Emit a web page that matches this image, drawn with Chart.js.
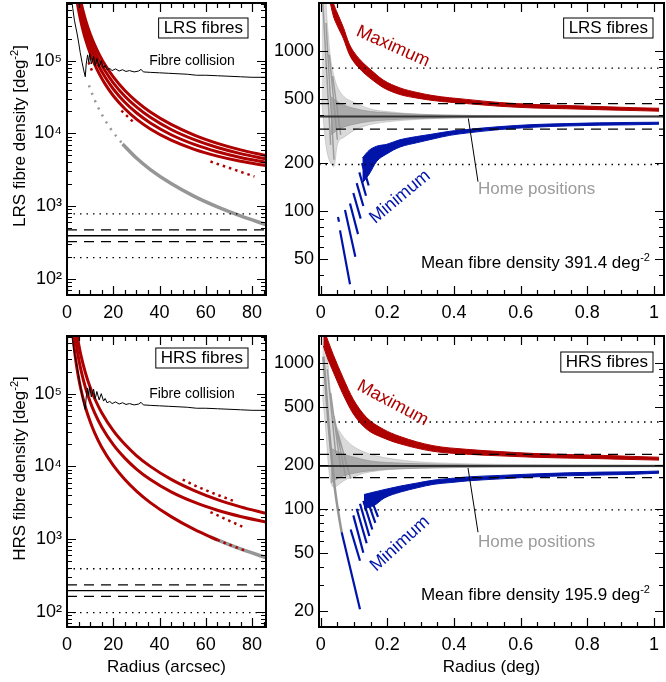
<!DOCTYPE html>
<html>
<head>
<meta charset="utf-8">
<script src="https://cdn.jsdelivr.net/npm/chart.js@4.4.0/dist/chart.umd.min.js"></script>
<style>
  body { margin: 0; background: #fff; }
  #wrap { position: relative; width: 666px; height: 682px; }
  canvas { position: absolute; }
</style>
</head>
<body>
<div id="wrap">
  <canvas id="lrsArc" width="270" height="330" style="left:0;top:0"></canvas>
  <canvas id="lrsDeg" width="396" height="330" style="left:270px;top:0"></canvas>
  <canvas id="hrsArc" width="270" height="352" style="left:0;top:330px"></canvas>
  <canvas id="hrsDeg" width="396" height="352" style="left:270px;top:330px"></canvas>
</div>
<script>
const FONT = "'Liberation Sans', Arial, Helvetica, sans-serif";
Chart.defaults.font.family = FONT;
Chart.defaults.font.size = 17;
Chart.defaults.color = '#000';

const RED = 'rgb(175,0,0)';
const BLUE = 'rgb(0,20,170)';
const GREY = 'rgb(150,150,150)';

// ---- radius in arcsec: density around a fibre, [radius, density] ----
const collisionLimit = [[2.0,7e5],[2.5,5.2e5],[3.2,3.6e5],[4.3,2.4e5],[5,1.8e5],[5.7,1.3e5],[6.5,9.5e4],[7.3,7.2e4],[7.9,6.0e4],[8.3,9e4],[8.9,1.2e5],[9.4,9.5e4],[9.8,1.25e5],[10.5,9e4],[11.5,1.15e5],[12.2,8.5e4],[12.9,1.07e5],[13.9,8.2e4],[14.8,1.0e5],[15.8,7.9e4],[16.5,8.6e4],[17.3,7.5e4],[18.5,7.8e4],[19.5,7.3e4],[21,7.7e4],[22.5,7.2e4],[24,7.5e4],[25.5,7.1e4],[27,7.3e4],[29,7.0e4],[31,7.2e4],[32,7.6e4],[33,7.0e4],[36,6.9e4],[40,6.8e4],[44,6.7e4],[48,6.6e4],[52,6.5e4],[56,6.3e4],[60,6.3e4],[65,6.2e4],[70,6.1e4],[75,6.0e4],[80,5.9e4],[86,5.9e4]];

const lrsArcRedA = [[6,6.46e5],[7,4.75e5],[8,3.64e5],[10,2.34e5],[12,1.63e5],[14,1.2e5],[16.5,8.69e4],[20,5.98e4],[25,3.89e4],[30,2.76e4],[36,1.97e4],[45,1.33e4],[55,9480],[65,7300],[75,5940],[86,4950]];
const lrsArcRedB = [[5.5,6.33e5],[6,5.32e5],[7,3.91e5],[8,3.0e5],[10,1.93e5],[12,1.34e5],[14,9.92e4],[16.5,7.2e4],[20,4.96e4],[25,3.24e4],[30,2.31e4],[36,1.66e4],[45,1.13e4],[55,8190],[65,6390],[75,5270],[86,4460]];
const lrsArcRedC = [[4.8,6.76e5],[5,6.24e5],[6,4.34e5],[7,3.19e5],[8,2.45e5],[10,1.57e5],[12,1.1e5],[14,8.12e4],[16.5,5.9e4],[20,4.08e4],[25,2.68e4],[30,1.92e4],[36,1.39e4],[45,9580],[55,7050],[65,5590],[75,4670],[86,4010]];
const lrsArcRedD = [[4.3,6.73e5],[5,4.98e5],[6,3.46e5],[7,2.55e5],[8,1.96e5],[10,1.26e5],[12,8.8e4],[14,6.52e4],[16.5,4.75e4],[20,3.29e4],[25,2.18e4],[30,1.57e4],[36,1.15e4],[45,8060],[55,6030],[65,4870],[75,4140],[86,3610]];
const lrsArcRedSparse = [[[9.3,9.5e4],[11,7e4]],[[23.5,2.05e4],[28.5,1.45e4]],[[62,4100],[72,3200],[81,2550]]];
const lrsArcHomeSparse = [[9.5,4.57e4],[12,2.86e4],[15,1.83e4],[19,1.14e4],[24,7160]];
const lrsArcHome = [[24,7160],[30,4580],[36,3180],[45,2040],[55,1360],[65,976],[75,733],[86,558]];

const hrsArcRedA = [[4.3,6.58e5],[5,4.87e5],[6,3.38e5],[8,1.91e5],[10,1.22e5],[12,8.51e4],[15,5.47e4],[20,3.1e4],[25,2.01e4],[30,1.41e4],[36,1.0e4],[45,6620],[55,4640],[65,3490],[75,2780],[86,2260]];
const hrsArcRedB = [[3.4,6.64e5],[4,4.8e5],[5,3.07e5],[6,2.14e5],[8,1.2e5],[10,7.74e4],[12,5.39e4],[15,3.48e4],[20,1.99e4],[25,1.3e4],[30,9200],[36,6600],[45,4470],[55,3220],[65,2500],[75,2050],[86,1720]];
const hrsArcRedC = [[2.5,6.6e5],[3,4.58e5],[4,2.58e5],[5,1.65e5],[6,1.15e5],[8,6.45e4],[10,4.13e4],[12,2.86e4],[15,1.83e4],[20,1.03e4],[25,6600],[30,4580],[36,3180],[45,2040],[55,1360],[65,976]];
const hrsArcRedSparse = [[[50,6600],[55,5500],[60,4700],[66,3950],[72,3350]],[[62,2350],[70,1800],[77,1420]],[[65,976],[70,842],[77,696]]];
const hrsArcHome = [[62,1073],[65,976],[75,733],[86,558]];

// ---- radius in deg: [radius, low, high] envelopes ----
const lrsMean = 391.4;
const lrsDashed = [470, 326];
const lrsDotted = [783, 196];
const lrsMaximum = [[0.025,2180,2640],[0.038,1660,2010],[0.05,1440,1730],[0.068,1200,1410],[0.085,965,1120],[0.098,865,1000],[0.115,785,900],[0.13,730,835],[0.16,650,735],[0.188,592,660],[0.238,536,590],[0.29,509,552],[0.337,492,528],[0.387,480,512],[0.437,471,500],[0.537,453,478],[0.637,442,465],[0.737,437,458],[0.837,431,451],[0.937,426,444],[1.015,422,440]];
const lrsMinimum = [[0.125,150,215],[0.145,170,240],[0.168,205,255],[0.198,228,262],[0.238,252,280],[0.288,268,293],[0.337,283,304],[0.387,298,316],[0.437,308,324],[0.537,324,338],[0.637,335,348],[0.737,341,353],[0.837,345,357],[0.937,347,359],[1.015,350,360]];
const lrsMinStripes = [[[0.052,92],[0.055,86]],[[0.058,76],[0.088,35]],[[0.073,102],[0.104,52]],[[0.088,112],[0.112,72]],[[0.098,130],[0.120,90]],[[0.108,150],[0.128,108]],[[0.116,175],[0.136,125]],[[0.124,200],[0.144,145]]];
const lrsHome = [[0.003,500,2500],[0.012,300,2500],[0.02,230,1500],[0.03,200,900],[0.04,190,700],[0.05,260,600],[0.07,290,520],[0.1,320,480],[0.13,340,450],[0.16,352,430],[0.2,362,420],[0.25,370,410],[0.3,376,404],[0.4,383,398],[0.55,387,395],[1.03,390,393]];
const lrsHomeCore = [[0.03,300,520],[0.06,330,470],[0.1,350,440],[0.15,365,420],[0.2,372,412],[0.3,380,403],[0.45,385,397],[0.6,388,395],[1.03,390,393]];
const lrsHomeStreaks = [[[0.006,2100],[0.03,260]],[[0.016,1500],[0.04,210]],[[0.026,950],[0.05,280]],[[0.036,700],[0.06,300]]];
const lrsPointer = [[0.443,380],[0.472,153]];

const hrsMean = 195.9;
const hrsDashed = [235, 163];
const hrsDotted = [392, 98];
const hrsMaximum = [[0.008,1300,1700],[0.02,1080,1450],[0.038,860,1130],[0.068,600,780],[0.098,445,560],[0.138,350,420],[0.188,305,350],[0.238,278,312],[0.337,247,270],[0.437,236,255],[0.537,230,246],[0.637,225,239],[0.737,222,235],[0.837,220,232],[0.937,217,228],[1.015,215,225]];
const hrsMinimum = [[0.13,100,125],[0.16,105,130],[0.19,118,135],[0.24,130,143],[0.29,139,150],[0.34,147,157],[0.39,151,161],[0.44,155,165],[0.54,160,169],[0.64,165,173],[0.74,168,176],[0.84,170,178],[0.94,172,179],[1.015,175,181]];
const hrsMinStripes = [[[0.063,69],[0.118,20.5]],[[0.09,72],[0.118,44]],[[0.098,90],[0.128,50]],[[0.108,100],[0.138,58]],[[0.118,108],[0.146,65]],[[0.128,113],[0.155,72]],[[0.138,118],[0.164,80]],[[0.148,122],[0.172,88]]];
const hrsHome = [[0.005,600,1600],[0.015,350,1600],[0.025,180,800],[0.04,140,420],[0.06,150,330],[0.08,160,290],[0.1,165,265],[0.13,175,245],[0.16,180,232],[0.2,185,222],[0.25,188,214],[0.3,190,209],[0.4,192,204],[0.55,193,201],[1.03,194,199]];
const hrsHomeCore = [[0.03,150,260],[0.06,165,240],[0.1,175,225],[0.15,182,212],[0.2,186,207],[0.3,189,203],[0.45,192,200],[0.6,193,199],[1.03,194,198]];
const hrsHomeStreaks = [[[0.02,900],[0.045,240]],[[0.03,620],[0.06,190]],[[0.04,430],[0.075,165]],[[0.05,340],[0.09,160]]];
const hrsHomeTail = [[0.008,1100],[0.015,700],[0.022,420],[0.03,260],[0.043,135],[0.055,88],[0.063,69]];
const hrsPointer = [[0.442,190],[0.472,69]];

// ---- axis ticks ----
const arcTicks = [0, 20, 40, 60, 80];
const degTicks = [0, 0.2, 0.4, 0.6, 0.8, 1];
const arcDensityTicks = [100, 1000, 10000, 100000];
const lrsDegTicks = [50, 100, 200, 500, 1000];
const hrsDegTicks = [20, 50, 100, 200, 500, 1000];
const powerLabels = { 100: '10²', 1000: '10³', 10000: '10⁴', 100000: '10⁵' };

// helpers
const pts = arr => arr.map(([x, y]) => ({ x, y }));
const gapped = segs => segs.flatMap((s, i) => i ? [{ x: (segs[i - 1].at(-1)[0] + s[0][0]) / 2, y: null }, ...pts(s)] : pts(s));
const logMinors = (lo, hi) => {
  const out = [];
  for (let e = 0; e <= 6; e++) for (let m = 2; m <= 9; m++) {
    const v = m * Math.pow(10, e);
    if (v > lo && v < hi) out.push(v);
  }
  return out;
};
const steps = (lo, hi, d) => { const out = []; for (let v = lo; v <= hi + 1e-9; v += d) out.push(+v.toFixed(4)); return out; };

function curve(data, color, width, extra) {
  return Object.assign({ data: pts(data), borderColor: color, borderWidth: width, pointRadius: 0,
    fill: false, cubicInterpolationMode: 'monotone', order: 2, clip: 0 }, extra);
}
function segments(segs, color, width, order) {
  return Object.assign(curve([], color, width, { cubicInterpolationMode: 'default', tension: 0, spanGaps: false, order }), { data: gapped(segs) });
}
function band(rows, color, fillColor, order) {
  return [
    { data: rows.map(r => ({ x: r[0], y: r[1] })), borderColor: color, borderWidth: 1, pointRadius: 0,
      fill: false, cubicInterpolationMode: 'monotone', order, clip: 0 },
    { data: rows.map(r => ({ x: r[0], y: r[2] })), borderColor: color, borderWidth: 1, pointRadius: 0,
      fill: '-1', backgroundColor: fillColor, cubicInterpolationMode: 'monotone', order, clip: 0 }
  ];
}
function hline(v, x0, x1, dash, width, color, order) {
  return { data: [{ x: x0, y: v }, { x: x1, y: v }], borderColor: color || '#000', borderWidth: width,
    borderDash: dash, pointRadius: 0, fill: false, order: order ?? 1, clip: 0 };
}

function richText(ctx, parts, x, y, size, align) {
  const widths = parts.map(([t, s]) => { ctx.font = `${s ? size * 0.65 : size}px ${FONT}`; return ctx.measureText(t).width; });
  const total = widths.reduce((a, b) => a + b, 0);
  let cx = align === 'right' ? x - total : align === 'center' ? x - total / 2 : x;
  ctx.textAlign = 'left';
  ctx.textBaseline = 'alphabetic';
  parts.forEach(([t, s], i) => {
    ctx.font = `${s ? size * 0.65 : size}px ${FONT}`;
    ctx.fillText(t, cx, s ? y - size * 0.42 : y);
    cx += widths[i];
  });
}

// frame, inward ticks on four sides, and the labels inside each panel
const panelDecor = {
  id: 'panelDecor',
  afterDatasetsDraw(chart, args, o) {
    const { ctx, chartArea: a, scales: { x, y } } = chart;
    ctx.save();
    ctx.strokeStyle = '#000';
    ctx.lineWidth = 1.2;
    ctx.beginPath();
    const tickX = (v, len) => {
      const p = Math.round(x.getPixelForValue(v)) + 0.5;
      ctx.moveTo(p, a.bottom); ctx.lineTo(p, a.bottom - len);
      ctx.moveTo(p, a.top); ctx.lineTo(p, a.top + len);
    };
    const tickY = (v, len) => {
      const p = Math.round(y.getPixelForValue(v)) + 0.5;
      ctx.moveTo(a.left, p); ctx.lineTo(a.left + len, p);
      ctx.moveTo(a.right, p); ctx.lineTo(a.right - len, p);
    };
    o.xMajor.forEach(v => tickX(v, 9));
    o.xMinor.forEach(v => tickX(v, 5));
    o.yMajor.forEach(v => tickY(v, 9));
    o.yMinor.forEach(v => tickY(v, 5));
    ctx.stroke();
    ctx.lineWidth = 2;
    ctx.strokeRect(a.left, a.top, a.right - a.left, a.bottom - a.top);

    // boxed fibre type
    ctx.font = `17px ${FONT}`;
    const w = ctx.measureText(o.box).width + 10;
    const bx = a.right - o.boxRight - w, by = a.top + o.boxTop;
    ctx.fillStyle = '#fff';
    ctx.fillRect(bx, by, w, 20);
    ctx.lineWidth = 1;
    ctx.strokeRect(bx, by, w, 20);
    ctx.fillStyle = '#000';
    ctx.textAlign = 'center';
    ctx.textBaseline = 'middle';
    ctx.fillText(o.box, bx + w / 2, by + 10.5);

    (o.notes || []).forEach(n => {
      ctx.save();
      ctx.translate(x.getPixelForValue(n.x), y.getPixelForValue(n.y));
      ctx.rotate((n.rot || 0) * Math.PI / 180);
      ctx.fillStyle = n.color || '#000';
      ctx.font = `${n.size}px ${FONT}`;
      ctx.textAlign = n.align || 'center';
      ctx.textBaseline = 'middle';
      ctx.fillText(n.text, 0, 0);
      ctx.restore();
    });

    if (o.mean) {
      ctx.fillStyle = '#000';
      richText(ctx, [['Mean fibre density ' + o.mean + ' deg', 0], ['-2', 1]], a.right - 14, a.bottom - 27, 17, 'right');
    }
    if (o.yTitle) {
      ctx.save();
      ctx.translate(19, (a.top + a.bottom) / 2 - 13);
      ctx.rotate(-Math.PI / 2);
      ctx.fillStyle = '#000';
      richText(ctx, [[o.yTitle + ' [deg', 0], ['-2', 1], [']', 0]], 0, 6, 17, 'center');
      ctx.restore();
    }
    ctx.restore();
  }
};

const noEdgePadding = s => { s.paddingTop = 0; s.paddingBottom = 0; s.paddingLeft = 0; s.paddingRight = 0; };

function makePanel(id, p) {
  return new Chart(document.getElementById(id), {
    type: 'line',
    data: { datasets: p.datasets },
    plugins: [panelDecor],
    options: {
      responsive: false,
      animation: false,
      devicePixelRatio: 1,
      layout: { padding: { top: p.padTop, right: p.padRight, left: 0, bottom: 0 } },
      plugins: {
        legend: { display: false },
        tooltip: { enabled: false },
        panelDecor: Object.assign({
          xMajor: p.xTicks, xMinor: p.xMinor,
          yMajor: p.yTicks, yMinor: logMinors(p.yMin, p.yMax).filter(v => !p.yTicks.includes(v))
        }, p.decor)
      },
      scales: {
        x: {
          type: 'linear', min: p.xMin, max: p.xMax,
          afterBuildTicks: s => { s.ticks = p.xTicks.map(v => ({ value: v })); },
          afterFit: s => { s.height = p.xAxisHeight; noEdgePadding(s); },
          ticks: { font: { size: 18 }, padding: 7, autoSkip: false, maxRotation: 0, minRotation: 0, callback: v => String(v) },
          grid: { display: false, drawTicks: false },
          border: { display: false },
          title: p.xTitle ? { display: true, text: p.xTitle, font: { size: 17 }, padding: { top: 0, bottom: 4 } } : { display: false }
        },
        y: {
          type: 'logarithmic', min: p.yMin, max: p.yMax,
          afterBuildTicks: s => { s.ticks = p.yTicks.map(v => ({ value: v })); },
          afterFit: s => { s.width = p.yAxisWidth; noEdgePadding(s); },
          ticks: { font: { size: 18 }, padding: 5, autoSkip: false, callback: p.yLabel },
          grid: { display: false, drawTicks: false },
          border: { display: false }
        }
      }
    }
  });
}

function arcDatasets(reds, sparse, homeSparse, home) {
  const ds = [curve(collisionLimit, '#000', 1, { cubicInterpolationMode: 'default', tension: 0, order: 0 })];
  reds.forEach(r => ds.push(curve(r, RED, 3)));
  ds.push(Object.assign(curve([], RED, 2.5, { borderDash: [2.5, 4], spanGaps: false }), { data: gapped(sparse) }));
  if (homeSparse) ds.push(curve(homeSparse, GREY, 2.5, { borderDash: [2, 6], order: 3 }));
  ds.push(curve(home, GREY, 3.5, { order: 3 }));
  return ds;
}
function refLines(mean, dashed, dotted, x0, x1, meanColor, meanWidth) {
  return [
    hline(mean, x0, x1, [], meanWidth, meanColor, 0),
    ...dashed.map(v => hline(v, x0, x1, [10, 7], 1.2)),
    ...dotted.map(v => hline(v, x0, x1, [1.5, 5], 1.3))
  ];
}
function degDatasets(home, core, streaks, maxRows, minRows, stripes, pointer, extra) {
  return [
    ...band(home, 'rgba(150,150,150,0.35)', 'rgba(150,150,150,0.35)', 5),
    ...band(core, 'rgba(150,150,150,0.7)', 'rgba(150,150,150,0.7)', 4),
    segments(streaks, 'rgba(150,150,150,0.9)', 1.5, 4),
    ...band(maxRows, RED, RED, 2),
    ...band(minRows, BLUE, BLUE, 2),
    segments(stripes, BLUE, 2.2, 2),
    curve(pointer, '#000', 1, { order: 1, cubicInterpolationMode: 'default', tension: 0 }),
    ...extra
  ];
}

const arcMinor = steps(0, 85, 5);
const degMinor = steps(0, 1.0, 0.05);

makePanel('lrsArc', {
  xMin: 0, xMax: 86, yMin: 60, yMax: 6.2e5, xTicks: arcTicks, xMinor: arcMinor, yTicks: arcDensityTicks,
  yLabel: v => powerLabels[v] || '', yAxisWidth: 67, xAxisHeight: 35, padTop: 3, padRight: 4,
  datasets: [
    ...arcDatasets([lrsArcRedA, lrsArcRedB, lrsArcRedC, lrsArcRedD], lrsArcRedSparse, lrsArcHomeSparse, lrsArcHome),
    ...refLines(lrsMean, lrsDashed, lrsDotted, 0, 86, '#000', 1.3)
  ],
  decor: { box: 'LRS fibres', boxRight: 18, boxTop: 15, yTitle: 'LRS fibre density',
    notes: [{ text: 'Fibre collision', x: 54, y: 9.8e4, size: 14 }] }
});

makePanel('hrsArc', {
  xMin: 0, xMax: 86, yMin: 62, yMax: 6.2e5, xTicks: arcTicks, xMinor: arcMinor, yTicks: arcDensityTicks,
  yLabel: v => powerLabels[v] || '', yAxisWidth: 67, xAxisHeight: 55, padTop: 6, padRight: 4, xTitle: 'Radius (arcsec)',
  datasets: [
    ...arcDatasets([hrsArcRedA, hrsArcRedB, hrsArcRedC], hrsArcRedSparse, null, hrsArcHome),
    ...refLines(hrsMean, hrsDashed, hrsDotted, 0, 86, '#000', 1.3)
  ],
  decor: { box: 'HRS fibres', boxRight: 18, boxTop: 12, yTitle: 'HRS fibre density',
    notes: [{ text: 'Fibre collision', x: 54, y: 1e5, size: 14 }] }
});

makePanel('lrsDeg', {
  xMin: -0.005, xMax: 1.03, yMin: 30, yMax: 2000, xTicks: degTicks, xMinor: degMinor, yTicks: lrsDegTicks,
  yLabel: v => String(v), yAxisWidth: 49, xAxisHeight: 35, padTop: 3, padRight: 2,
  datasets: degDatasets(lrsHome, lrsHomeCore, lrsHomeStreaks, lrsMaximum, lrsMinimum, lrsMinStripes, lrsPointer,
    refLines(lrsMean, lrsDashed, lrsDotted, -0.005, 1.03, '#333', 2)),
  decor: { box: 'LRS fibres', boxRight: 11, boxTop: 15, mean: lrsMean,
    notes: [
      { text: 'Maximum', x: 0.217, y: 1070, size: 18, rot: 24, color: RED },
      { text: 'Minimum', x: 0.238, y: 123, size: 18, rot: -40, color: BLUE },
      { text: 'Home positions', x: 0.472, y: 138, size: 17, align: 'left', color: 'rgb(155,155,155)' }
    ] }
});

makePanel('hrsDeg', {
  xMin: -0.005, xMax: 1.03, yMin: 15.5, yMax: 1520, xTicks: degTicks, xMinor: degMinor, yTicks: hrsDegTicks,
  yLabel: v => String(v), yAxisWidth: 49, xAxisHeight: 55, padTop: 6, padRight: 2, xTitle: 'Radius (deg)',
  datasets: degDatasets(hrsHome, hrsHomeCore, hrsHomeStreaks, hrsMaximum, hrsMinimum, hrsMinStripes, hrsPointer, [
    curve(hrsHomeTail, GREY, 2.5, { order: 4 }),
    ...refLines(hrsMean, hrsDashed, hrsDotted, -0.005, 1.03, '#333', 2)
  ]),
  decor: { box: 'HRS fibres', boxRight: 11, boxTop: 16, mean: hrsMean,
    notes: [
      { text: 'Maximum', x: 0.216, y: 528, size: 18, rot: 28, color: RED },
      { text: 'Minimum', x: 0.238, y: 57.5, size: 18, rot: -42, color: BLUE },
      { text: 'Home positions', x: 0.472, y: 59, size: 17, align: 'left', color: 'rgb(155,155,155)' }
    ] }
});
</script>
</body>
</html>
